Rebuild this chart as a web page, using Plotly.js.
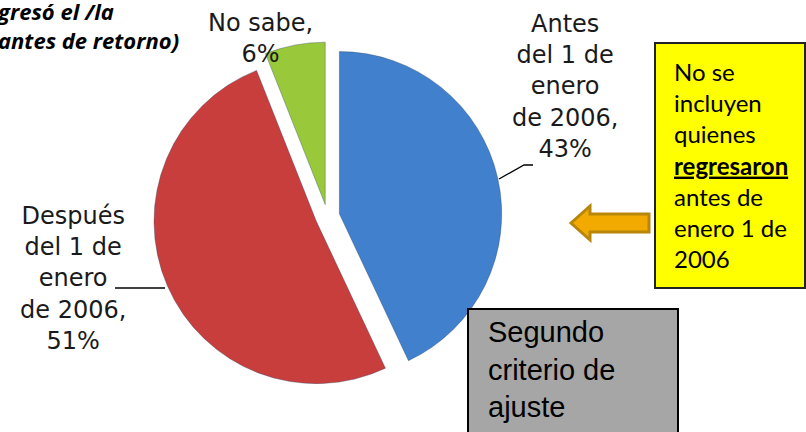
<!DOCTYPE html>
<html>
<head>
<meta charset="utf-8">
<script src="https://cdn.plot.ly/plotly-3.0.1.min.js"></script>
<style>
html,body{margin:0;padding:0;background:#fff;}
#chart{width:806px;height:432px;}
</style>
</head>
<body>
<div id="chart"></div>
<script>
// Data
var categories = ["Antes del 1 de enero de 2006", "Después del 1 de enero de 2006", "No sabe"];
var values = [43, 51, 6];
var labelTexts = ["Antes<br>del 1 de<br>enero<br>de 2006,<br>43%", "Después<br>del 1 de<br>enero<br>de 2006,<br>51%", "No sabe,<br>6%"];
var sliceColors = ["#4080CC", "#C83E3D", "#99C93A"];
var titleLines = ["gresó el /la", "antes de retorno)"];
var noteLines = ["No se", "incluyen", "quienes", "<b><u>regresaron</u></b>", "antes de", "enero 1 de", "2006"];
var boxText = "Segundo<br>criterio de<br>ajuste";

var W = 806, H = 432;
function px(x){ return x / W; }
function py(y){ return 1 - y / H; }

var trace = {
  type: "pie",
  labels: categories,
  values: values,
  sort: false,
  direction: "clockwise",
  rotation: 0,
  pull: [0.075, 0.075, 0.075],
  marker: {colors: sliceColors, line: {color: "rgba(40,60,90,0.35)", width: 1}},
  textinfo: "none",
  hoverinfo: "label+percent",
  domain: {x: [px(153), px(502)], y: [py(391), py(42)]},
  showlegend: false
};

var labelFont = {family: "DejaVu Sans", size: 24, color: "#1a1a1a"};
var titleFont = {family: "Open Sans", size: 22, color: "#000"};

var annotations = [
  {text: labelTexts[0], x: px(565), y: py(87), xref: "paper", yref: "paper", showarrow: false, font: labelFont, align: "center", xanchor: "center", yanchor: "middle"},
  {text: labelTexts[1], x: px(73), y: py(278), xref: "paper", yref: "paper", showarrow: false, font: labelFont, align: "center", xanchor: "center", yanchor: "middle"},
  {text: labelTexts[2], x: px(260), y: py(38), xref: "paper", yref: "paper", showarrow: false, font: labelFont, align: "center", xanchor: "center", yanchor: "middle"},
  {text: "<b><i>" + titleLines.join("<br>") + "</i></b>", x: px(-6), y: py(-6), xref: "paper", yref: "paper", showarrow: false, font: titleFont, align: "left", xanchor: "left", yanchor: "top"},
  {text: noteLines.join("<br>"), x: px(672), y: py(165), xref: "paper", yref: "paper", showarrow: false, font: {family: "Lato", size: 24, color: "#000"}, align: "left", xanchor: "left", yanchor: "middle"},
  {text: boxText, x: px(486), y: py(369), xref: "paper", yref: "paper", showarrow: false, font: {family: "Liberation Sans", size: 29, color: "#000"}, align: "left", xanchor: "left", yanchor: "middle"}
];

var shapes = [
  // leader lines
  {type: "path", xref: "paper", yref: "paper", path: "M" + px(499) + "," + py(179) + " L" + px(524) + "," + py(165) + " L" + px(533) + "," + py(165), line: {color: "#000", width: 1.3}},
  {type: "line", xref: "paper", yref: "paper", x0: px(115), y0: py(288), x1: px(165), y1: py(288), line: {color: "#000", width: 1.3}},
  // yellow note box
  {type: "rect", xref: "paper", yref: "paper", x0: px(655), y0: py(43), x1: px(805), y1: py(288), fillcolor: "#FFFF00", line: {color: "#222", width: 2}, layer: "below"},
  // gray box
  {type: "rect", xref: "paper", yref: "paper", x0: px(468), y0: py(309), x1: px(678), y1: py(440), fillcolor: "#A6A6A6", line: {color: "#000", width: 2}, layer: "above"},
  // arrow
  {type: "path", xref: "paper", yref: "paper",
   path: "M" + px(571) + "," + py(223) + " L" + px(590) + "," + py(206) + " L" + px(590) + "," + py(214) + " L" + px(649) + "," + py(214) + " L" + px(649) + "," + py(232) + " L" + px(590) + "," + py(232) + " L" + px(590) + "," + py(240) + " Z",
   fillcolor: "#F2AA00", line: {color: "#B8860B", width: 3}}
];

var layout = {
  width: W, height: H,
  margin: {l: 0, r: 0, t: 0, b: 0},
  paper_bgcolor: "#fff",
  annotations: annotations,
  shapes: shapes,
  showlegend: false
};

Plotly.newPlot("chart", [trace], layout, {displayModeBar: false, staticPlot: true});
</script>
</body>
</html>
